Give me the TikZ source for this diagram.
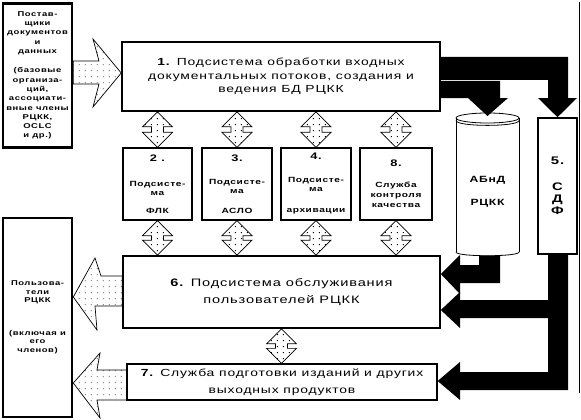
\documentclass[tikz,border=0pt]{standalone}
\usepackage{fontspec}
\setmainfont{Liberation Sans}[FakeStretch=1.35,LetterSpace=8]
\usetikzlibrary{calc,patterns.meta}

\tikzdeclarepattern{
  name=sparsedots,
  type=uncolored,
  bounding box={(0pt,0pt) and (6pt,6pt)},
  tile size={(6pt,6pt)},
  code={\fill (1pt,1pt) rectangle (2pt,2pt);}
}

\tikzset{
  box/.style={draw, line width=1.6pt, fill=white, inner sep=1pt, align=center},
  lbox/.style={draw, line width=2.6pt, fill=white, inner sep=1pt, align=center},
  sbox/.style={draw, line width=1.4pt, fill=white, inner sep=1pt, align=center,
    minimum height=72, font=\bfseries\fontsize{7.5}{9}\selectfont},
  hollow/.style={draw, line width=0.7pt, pattern={sparsedots}, pattern color=black, line join=miter},
  blackarrow/.style={fill=black},
  cylline/.style={draw=black, line width=0.8pt},
}

\newcommand{\vdouble}[3]{%
  \path[hollow] let \p1=(#1.south), \p2=(#2.north), \p3=(#3.center) in
    (\x3,\y1) -- (\x3+15pt,\y1-15pt) -- (\x3+6pt,\y1-15pt) -- (\x3+6pt,\y2+15pt)
    -- (\x3+15pt,\y2+15pt) -- (\x3,\y2) -- (\x3-15pt,\y2+15pt) -- (\x3-6pt,\y2+15pt)
    -- (\x3-6pt,\y1-15pt) -- (\x3-15pt,\y1-15pt) -- cycle;
}
\newcommand{\numsz}{\fontsize{9.5}{9}\selectfont}

\begin{document}
\begin{tikzpicture}[x=1pt,y=-1pt]
\useasboundingbox (0,0) rectangle (581,420);
\fill[white] (0,0) rectangle (581,420);

% main boxes
\node[box, minimum width=318, minimum height=69, font=\fontsize{10.3}{13.5}\selectfont] (b1) at (281,76.5)
  {\textbf{1.} Подсистема обработки входных\\документальных потоков, создания и\\ведения БД РЦКК};

\node[sbox, minimum width=69] (b2) at (157.5,184)
  {{\numsz 2 .}\\[16pt]Подсисте-\\ма\\[9pt]ФЛК};
\node[sbox, minimum width=70] (b3) at (237,184)
  {{\numsz 3.}\\[14pt]Подсисте-\\ма\\[11pt]АСЛО};
\node[sbox, minimum width=70] (b4) at (316,184)
  {{\numsz 4.}\\[14pt]Подсисте-\\ма\\[12pt]архивации};
\node[sbox, minimum width=72] (b8) at (396,184)
  {{\numsz 8.}\\[12pt]Служба\\[1pt]контроля\\[1pt]качества};

\node[box, minimum width=317, minimum height=72, font=\fontsize{10.8}{16.5}\selectfont] (b6) at (281.5,292)
  {\textbf{6.} Подсистема обслуживания\\пользователей РЦКК};
\node[box, line width=1.3pt, minimum width=310, minimum height=36, font=\fontsize{10.3}{17}\selectfont] (b7) at (282,382)
  {\textbf{7.} Служба подготовки изданий и других\\выходных продуктов};

% left boxes
\node[lbox, minimum width=69, minimum height=144, font=\bfseries\fontsize{7}{9.3}\selectfont] (sup) at (37.5,75.5)
  {Постав-\\щики\\документов\\и\\данных\\[10pt](базовые\\организа-\\ций,\\ассоциати-\\вные члены\\РЦКК,\\OCLC\\и др.)};
\node[lbox, minimum width=69, minimum height=199, font=\bfseries\fontsize{7}{8.5}\selectfont] (usr) at (37.5,317.5)
  {Пользова-\\тели\\РЦКК\\[24pt](включая и\\его\\членов)};

% SDF
\node[draw, line width=1.6pt, fill=white, minimum width=39, minimum height=136, align=center,
  font=\bfseries\fontsize{11}{12}\selectfont] (sdf) at (557.5,186) {5.\\[14pt]С\\Д\\Ф};

% right frame line
\draw[line width=0.8pt] (579,2) -- (579,393);

\coordinate (cyltop) at (487.5,116);

% black arrows
\fill[blackarrow] (b1.east |- 0,57) -- (568,57) -- (568,98) -- (577,98) -- (sdf.north)
  -- (538,98) -- (548,98) -- (548,80) -- (b1.east |- 0,80) -- cycle;
\fill[blackarrow] (479,255.5) -- (500,255.5) -- (500,283) -- (460,283) -- (460,294)
  -- (b6.east |- 0,274) -- (460,255) -- (460,265) -- (479,265) -- cycle;
\fill[blackarrow] (sdf.south -| 548,0) -- (sdf.south -| 568,0) -- (568,390) -- (460,390) -- (460,400)
  -- (b7.east |- 0,381) -- (460,362) -- (460,372) -- (548,372) -- (548,318) -- (460,318)
  -- (460,328) -- (b6.east |- 0,310) -- (460,292) -- (460,300) -- (548,300) -- cycle;

% hollow arrows
\path[hollow] (sup.east |- 0,61) -- (99,61) -- (93,39) -- (b1.west |- 0,73) -- (93,107)
  -- (99,84) -- (sup.east |- 0,84) -- cycle;
\path[hollow] (b6.west |- 0,276) -- (101,276) -- (95,258) -- (usr.east |- 0,297) -- (97,330)
  -- (95,306) -- (b6.west |- 0,306) -- cycle;
\path[hollow] (b7.west |- 0,370) -- (97,370) -- (100,353) -- (usr.east |- 0,383) -- (100,418)
  -- (97,400) -- (b7.west |- 0,400) -- cycle;

% double arrows
\vdouble{b1}{b2}{b2}
\vdouble{b1}{b3}{b3}
\vdouble{b1}{b4}{b4}
\vdouble{b1}{b8}{b8}
\vdouble{b2}{b6}{b2}
\vdouble{b3}{b6}{b3}
\vdouble{b4}{b6}{b4}
\vdouble{b8}{b6}{b8}
\vdouble{b6}{b7}{b6}

% cylinder (drawn last, white filled)
\fill[white] (456,118) rectangle (519,254);
\draw[cylline] (456,118) -- (456,252);
\draw[cylline] (519,118) -- (519,252);
\draw[cylline] (456,252) .. controls (456,257) and (519,257) .. (519,252);
\draw[cylline] (487.5,118) ellipse[x radius=31.5, y radius=5];
\draw[cylline] (456,120.5) .. controls (456,127) and (519,127) .. (519,120.5);
\node[font=\bfseries\fontsize{9}{10}\selectfont, align=center] (cyl) at (487.5,191.5) {АБнД\\[13pt]РЦКК};

\fill[blackarrow] (b1.east |- 0,81) -- (500,81) -- (500,98) -- (508,98) -- (cyltop)
  -- (468,98) -- (b1.east |- 0,98) -- cycle;
\end{tikzpicture}
\end{document}
